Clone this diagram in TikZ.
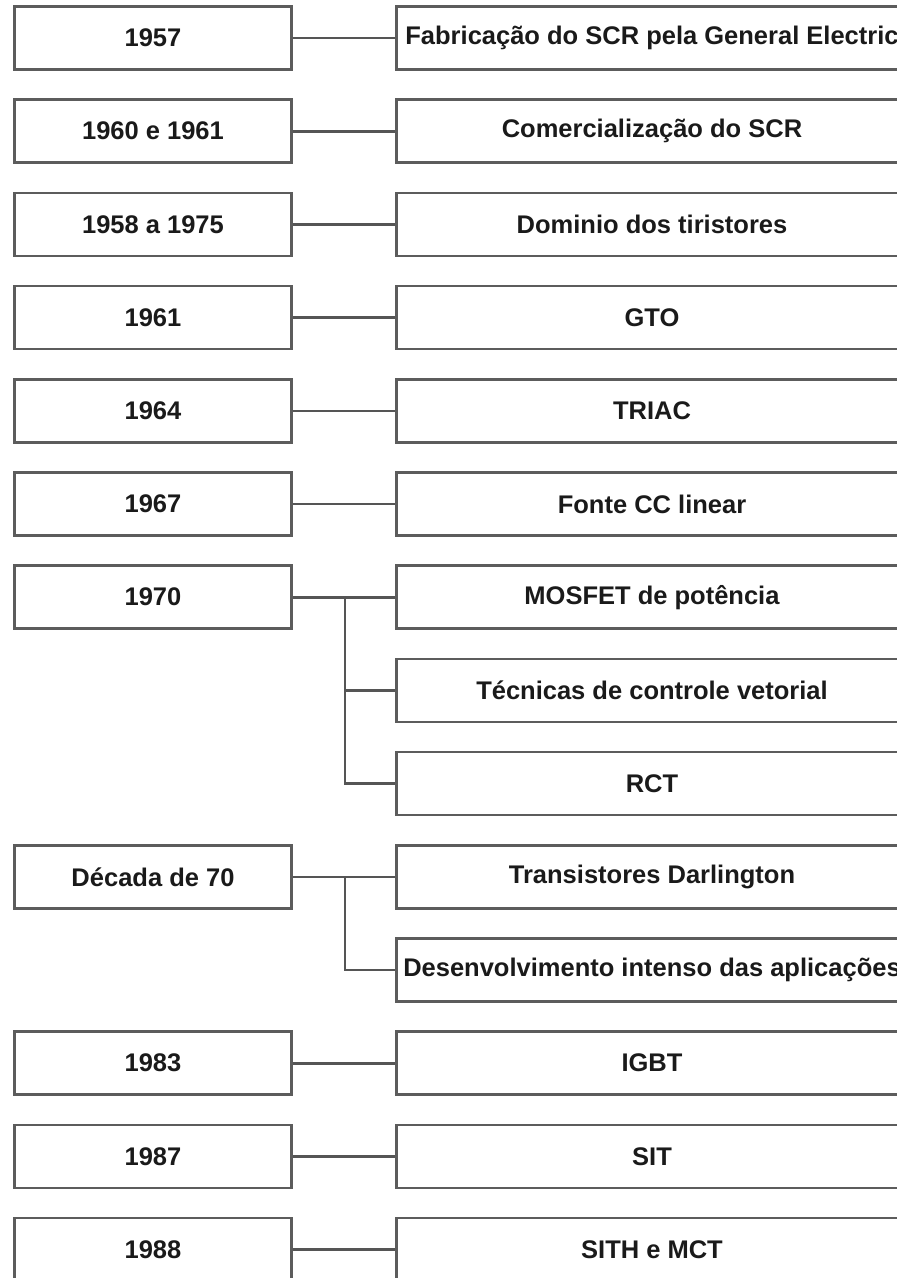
\documentclass[tikz,border=0pt]{standalone}
\usepackage{fontspec}
\setmainfont{Liberation Sans}
\usetikzlibrary{positioning}
\definecolor{frame}{HTML}{5C5C5C}
\definecolor{wire}{HTML}{555555}
\definecolor{label}{HTML}{1A1A1A}
\tikzset{
  yearbox/.style={draw=frame, line width=2.6pt, minimum width=277pt,
    minimum height=63pt, inner sep=0pt, text=label,
    font=\bfseries\fontsize{25.5}{29}\selectfont},
  eventbox/.style={yearbox, minimum width=511pt},
  connector/.style={draw=wire, line width=2.6pt}
}

\begin{document}
\begin{tikzpicture}[x=1pt, y=-1pt]
  % Page frame (picture is cut at right and bottom)
  \useasboundingbox (0,0) rectangle (897,1278);
  \clip (0,0) rectangle (897,1278);

  % One year, one event
  \foreach \row/\year/\event in {
    0/1957/Fabricação do SCR pela General Electric,
    1/1960 e 1961/Comercialização do SCR,
    2/1958 a 1975/Dominio dos tiristores,
    3/1961/GTO,
    4/1964/TRIAC,
    5/1967/Fonte CC linear,
    11/1983/IGBT,
    12/1987/SIT,
    13/1988/SITH e MCT
  } {
    \node[yearbox] (y\row) at (153, {38+93.2*\row}) {\year};
    \node[eventbox] (e\row) at (652, {38+93.2*\row}) {\event};
    \draw[connector] (y\row) -- (e\row);
  }

  % 1970: three events
  \node[yearbox] (y6) at (153, {38+93.2*6}) {1970};
  \node[eventbox] (e6) at (652, {38+93.2*6}) {MOSFET de potência};
  \node[eventbox] (e7) at (652, {38+93.2*7}) {Técnicas de controle vetorial};
  \node[eventbox] (e8) at (652, {38+93.2*8}) {RCT};
  \coordinate (split70) at (345, {38+93.2*6});
  \draw[connector] (y6) -- (e6);
  \draw[connector] (split70) |- (e8.west);
  \draw[connector] (split70 |- e7) -- (e7.west);

  % Decada de 70: two events
  \node[yearbox] (y9) at (153, {38+93.2*9}) {Década de 70};
  \node[eventbox] (e9) at (652, {38+93.2*9}) {Transistores Darlington};
  \node[eventbox] (e10) at (652, {38+93.2*10}) {Desenvolvimento intenso das aplicações};
  \coordinate (splitdec) at (345, {38+93.2*9});
  \draw[connector] (y9) -- (e9);
  \draw[connector] (splitdec) |- (e10.west);
\end{tikzpicture}
\end{document}
